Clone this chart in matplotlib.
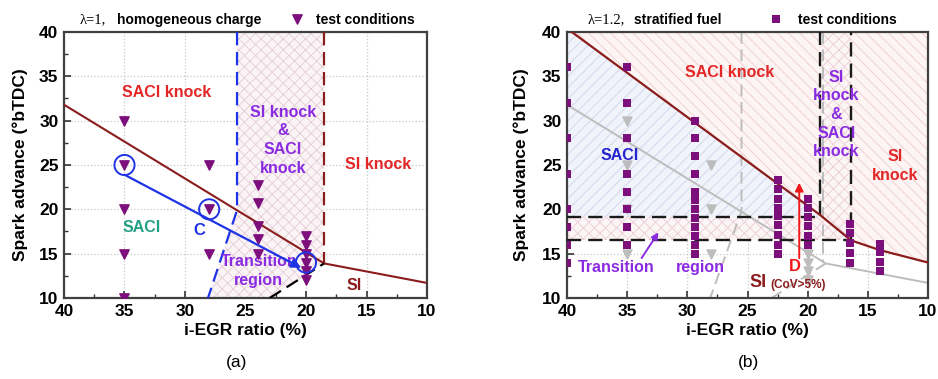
import matplotlib.pyplot as plt
from matplotlib.patches import Polygon

plt.rcParams['font.family'] = ['Liberation Sans', 'DejaVu Sans']
plt.rcParams['hatch.linewidth'] = 0.6

# ---------------------------------------------------------------------------
# Panel (a): lambda=1, homogeneous charge
# ---------------------------------------------------------------------------
a_line_x = [40, 18.5, 10]
a_line_y = [31.8, 13.9, 11.7]

a_tri_x = [35, 35, 35, 35, 35, 28, 28, 28, 24, 24, 24, 24, 24, 20, 20, 20, 20, 20, 20]
a_tri_y = [30, 25, 20, 15, 10, 25, 20, 15, 22.7, 20.7, 18.1, 16.7, 15, 17, 16, 15, 14, 13, 12]

a_circle_x = [35, 28, 20]
a_circle_y = [25, 20, 14]

a_blue_dash_x = [25.7, 25.7, 28.1]
a_blue_dash_y = [40, 19.9, 10]
a_red_dash_x = [18.5, 18.5]
a_red_dash_y = [40, 13.9]
a_black_dash_x = [23, 18.5]
a_black_dash_y = [10, 13.9]

a_hatch_x = [25.7, 18.5, 18.5, 23, 28.1, 25.7]
a_hatch_y = [40, 40, 13.9, 10, 10, 19.9]

a_arrow = ((35, 23.9), (20.4, 13.4))

# ---------------------------------------------------------------------------
# Panel (b): lambda=1.2, stratified fuel
# ---------------------------------------------------------------------------
b_line_x = [39.6, 19.0, 16.4, 14, 12, 10]
b_line_y = [40, 19.4, 16.5, 15.4, 14.7, 14.0]

b_sq_cols = [40, 35, 29.4, 22.5, 20, 16.5, 14]
b_sq_vals = [
    [36, 32, 28, 24, 20, 18, 16, 14],
    [36, 32, 28, 24, 22, 20, 18, 16],
    [30, 28, 26, 24, 22, 21, 20, 19, 18, 17, 16, 15],
    [23.3, 22.3, 21.2, 20.2, 19.2, 18.2, 17.1, 16, 15],
    [21.2, 20.2, 19.1, 18.1, 17.0, 16.0],
    [18.3, 17.3, 16.2, 15.1, 14.0],
    [16.1, 15.2, 14.1, 13.1],
]

b_ghost_tri_x = [35, 35, 35, 35, 28, 28, 28, 20, 20, 20, 20]
b_ghost_tri_y = [30, 25, 20, 15, 25, 20, 15, 15, 14, 13, 12]
b_ghost_dash_x = [25.5, 25.5, 28.1]
b_ghost_dash_y = [40, 19.8, 10]
b_ghost_vert_x = [18.7, 18.7]
b_ghost_vert_y = [40, 13.9]

b_upper_y = 19.1
b_lower_y = 16.5
b_left_x = 19.0
b_right_x = 16.4

b_cross_x = [40, 19.0, 19.0, 16.4, 16.4, 40]
b_cross_y = [19.1, 19.1, 40, 40, 16.5, 16.5]

b_arrow_d = ((20.7, 14.5), (20.7, 23.0))
b_arrow_tr = ((33.8, 14.5), (32.4, 17.4))

BROWN = '#8b1c1c'
PURPLE = '#7d0f7d'
BLUE = '#1e32e6'
RED = '#e32626'
VIOLET = '#8a2be2'
GHOST = '#bdbdbd'


def style_axes(ax):
    ax.set_xlim(40, 10)
    ax.set_ylim(10, 40)
    ax.set_xticks([40, 35, 30, 25, 20, 15, 10])
    ax.set_yticks([10, 15, 20, 25, 30, 35, 40])
    ax.set_xticks([37.5, 32.5, 27.5, 22.5, 17.5, 12.5], minor=True)
    ax.set_yticks([12.5, 17.5, 22.5, 27.5, 32.5, 37.5], minor=True)
    ax.tick_params(which='both', direction='in', top=False, right=False,
                   colors='#333333', labelcolor='black')
    ax.tick_params(which='major', length=5, width=1.2, labelsize=12.5, pad=4)
    ax.tick_params(which='minor', length=3, width=1.0)
    for lab in ax.get_xticklabels() + ax.get_yticklabels():
        lab.set_fontweight('bold')
    ax.grid(True, which='major', color='#c8c8c8', linestyle=':', linewidth=0.9)
    ax.set_axisbelow(True)
    for sp in ax.spines.values():
        sp.set_color('#404040')
        sp.set_linewidth(1.6)
    ax.set_xlabel('i-EGR ratio (%)', fontsize=12.5, fontweight='bold')
    ax.set_ylabel('Spark advance (\u00b0bTDC)', fontsize=12.5, fontweight='bold')


fig = plt.figure(figsize=(9.38, 3.79), dpi=100)
ax1 = fig.add_axes([64 / 938, 1 - 298 / 379, 363 / 938, 266 / 379])
ax2 = fig.add_axes([567 / 938, 1 - 298 / 379, 361 / 938, 266 / 379])

# ---------------- panel (a)
style_axes(ax1)
ax1.xaxis.set_label_coords(0.5, -0.095)
ax1.yaxis.set_label_coords(-0.098, 0.5)

ax1.add_patch(Polygon(list(zip(a_hatch_x, a_hatch_y)), closed=True,
                      facecolor='#fbf4f6', edgecolor='#e3cdd5', hatch='xxx',
                      linewidth=0, zorder=1))
ax1.plot(a_line_x, a_line_y, color=BROWN, lw=1.5, zorder=3)
ax1.plot(a_blue_dash_x, a_blue_dash_y, color=BLUE, lw=1.6, ls=(0, (6, 3)), zorder=3)
ax1.plot(a_red_dash_x, a_red_dash_y, color=BROWN, lw=1.6, ls=(0, (6, 3)), zorder=3)
ax1.plot(a_black_dash_x, a_black_dash_y, color='black', lw=1.6, ls=(0, (6, 3)), zorder=3)
ax1.scatter(a_tri_x, a_tri_y, marker='v', s=45, color=PURPLE, zorder=4)
ax1.scatter(a_circle_x, a_circle_y, marker='o', s=210, facecolor='none',
            edgecolor=BLUE, linewidths=1.4, zorder=5)
ax1.annotate('', xy=a_arrow[1], xytext=a_arrow[0],
             arrowprops=dict(arrowstyle='-|>', color=BLUE, lw=1.6,
                             mutation_scale=14, shrinkA=0, shrinkB=0), zorder=5)

ax1.text(31.5, 33.2, 'SACI knock', color=RED, fontsize=11.5, fontweight='bold',
         ha='center', va='center')
ax1.text(21.9, 27.8, 'SI knock\n&\nSACI\nknock', color=VIOLET, fontsize=11.5,
         fontweight='bold', ha='center', va='center', linespacing=1.3)
ax1.text(14.0, 25.0, 'SI knock', color=RED, fontsize=11.5, fontweight='bold',
         ha='center', va='center')
ax1.text(33.6, 17.9, 'SACI', color='#24a085', fontsize=11.5, fontweight='bold',
         ha='center', va='center')
ax1.text(28.8, 17.6, 'C', color=BLUE, fontsize=12, fontweight='bold',
         ha='center', va='center')
ax1.text(23.9, 13.0, 'Transition\nregion', color=VIOLET, fontsize=11.5,
         fontweight='bold', ha='center', va='center', linespacing=1.35)
ax1.text(16.0, 11.4, 'SI', color=BROWN, fontsize=11.5, fontweight='bold',
         ha='center', va='center')

# legend-like header
ax1.text(0.044, 1.045, '\u03bb=1,', transform=ax1.transAxes, fontsize=10.5,
         family='Liberation Serif', ha='left', va='center')
ax1.text(0.145, 1.045, 'homogeneous charge', transform=ax1.transAxes,
         fontsize=10, fontweight='bold', ha='left', va='center')
ax1.scatter([0.643], [1.047], marker='v', s=45, color=PURPLE,
            transform=ax1.transAxes, clip_on=False)
ax1.text(0.694, 1.045, 'test conditions', transform=ax1.transAxes,
         fontsize=10, fontweight='bold', ha='left', va='center')

# ---------------- panel (b)
style_axes(ax2)
ax2.xaxis.set_label_coords(0.5, -0.095)
ax2.yaxis.set_label_coords(-0.105, 0.5)

# pink hatch above the boundary line
ax2.fill_between(b_line_x, b_line_y, 40, facecolor='#fdf4f4', edgecolor='#f0cccc',
                 hatch='\\\\\\', linewidth=0, zorder=1)
# blue hatch: SACI region
blue_x = [40, 40] + [x for x in b_line_x if x >= b_left_x] + [b_left_x]
blue_y = [b_upper_y, 40] + [y for x, y in zip(b_line_x, b_line_y) if x >= b_left_x] + [b_upper_y]
ax2.add_patch(Polygon(list(zip(blue_x, blue_y)), closed=True, facecolor='#f1f3fb',
                      edgecolor='#cdd4ea', hatch='///', linewidth=0, zorder=1))
# crosshatch: transition band + knock strip
ax2.add_patch(Polygon(list(zip(b_cross_x, b_cross_y)), closed=True,
                      facecolor='#fcf5f6', edgecolor='#ebcdd4', hatch='xxx',
                      linewidth=0, zorder=1.5))

# ghost of panel (a)
ax2.plot(a_line_x, a_line_y, color=GHOST, lw=1.4, zorder=2)
ax2.plot(b_ghost_dash_x, b_ghost_dash_y, color=GHOST, lw=1.4, ls=(0, (6, 3)), zorder=2)
ax2.plot(b_ghost_vert_x, b_ghost_vert_y, color=GHOST, lw=1.4, ls=(0, (6, 3)), zorder=2)
ax2.plot(a_black_dash_x, a_black_dash_y, color=GHOST, lw=1.4, ls=(0, (6, 3)), zorder=2)
ax2.scatter(b_ghost_tri_x, b_ghost_tri_y, marker='v', s=42, color=GHOST, zorder=2)

# dashed region borders
dash = dict(color='#1a1a1a', lw=1.7, ls=(0, (6, 3)), zorder=3)
ax2.plot([40, b_left_x, b_left_x], [b_upper_y, b_upper_y, 40], **dash)
ax2.plot([40, b_right_x, b_right_x], [b_lower_y, b_lower_y, 40], **dash)

ax2.plot(b_line_x, b_line_y, color=BROWN, lw=1.6, zorder=4)

for cx, vals in zip(b_sq_cols, b_sq_vals):
    ax2.scatter([cx] * len(vals), vals, marker='s', s=36, color=PURPLE,
                linewidths=0, zorder=5)

ax2.annotate('', xy=b_arrow_d[1], xytext=b_arrow_d[0],
             arrowprops=dict(arrowstyle='-|>', color='#f01818', lw=1.4,
                             mutation_scale=12, shrinkA=0, shrinkB=0), zorder=6)
ax2.annotate('', xy=b_arrow_tr[1], xytext=b_arrow_tr[0],
             arrowprops=dict(arrowstyle='-|>', color=VIOLET, lw=1.4,
                             mutation_scale=10, shrinkA=0, shrinkB=0), zorder=6)

ax2.text(26.5, 35.4, 'SACI knock', color=RED, fontsize=11.5, fontweight='bold',
         ha='center', va='center')
ax2.text(17.6, 30.7, 'SI\nknock\n&\nSACI\nknock', color=VIOLET, fontsize=11.5,
         fontweight='bold', ha='center', va='center', linespacing=1.3)
ax2.text(12.7, 24.9, 'SI\nknock', color=RED, fontsize=11.5, fontweight='bold',
         ha='center', va='center', linespacing=1.35)
ax2.text(35.6, 26.1, 'SACI', color='#2424d0', fontsize=11.5, fontweight='bold',
         ha='center', va='center')
ax2.text(35.9, 13.4, 'Transition', color=VIOLET, fontsize=11.5, fontweight='bold',
         ha='center', va='center')
ax2.text(28.9, 13.4, 'region', color=VIOLET, fontsize=11.5, fontweight='bold',
         ha='center', va='center')
ax2.text(21.1, 13.6, 'D', color='#f01818', fontsize=12, fontweight='bold',
         ha='center', va='center', zorder=7)
ax2.text(24.1, 11.8, 'SI', color=BROWN, fontsize=13, fontweight='bold',
         ha='center', va='center')
ax2.text(20.8, 11.5, '(CoV>5%)', color=BROWN, fontsize=8.5, fontweight='bold',
         ha='center', va='center')

ax2.text(0.058, 1.045, '\u03bb=1.2,', transform=ax2.transAxes, fontsize=10.5,
         family='Liberation Serif', ha='left', va='center')
ax2.text(0.185, 1.045, 'stratified fuel', transform=ax2.transAxes,
         fontsize=10, fontweight='bold', ha='left', va='center')
ax2.scatter([0.579], [1.047], marker='s', s=40, color=PURPLE, linewidths=0,
            transform=ax2.transAxes, clip_on=False)
ax2.text(0.64, 1.045, 'test conditions', transform=ax2.transAxes,
         fontsize=10, fontweight='bold', ha='left', va='center')

fig.text(237 / 938, 1 - 363 / 379, '(a)', fontsize=12.5, ha='center', va='center')
fig.text(748 / 938, 1 - 363 / 379, '(b)', fontsize=12.5, ha='center', va='center')

fig.savefig('out.png', dpi=100)
